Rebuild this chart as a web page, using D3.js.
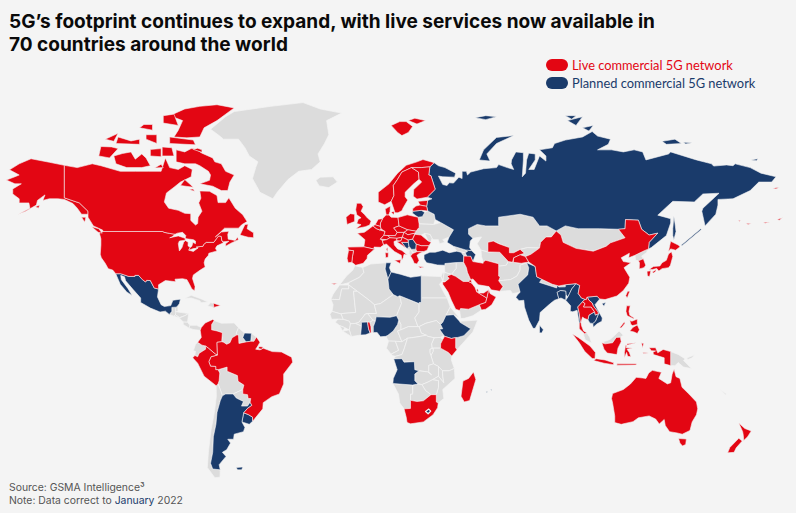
<!DOCTYPE html>
<html>
<head>
<meta charset="utf-8">
<script src="https://cdnjs.cloudflare.com/ajax/libs/d3/7.8.5/d3.min.js"></script>
<style>
  html, body { margin: 0; background: #f4f4f4; }
  svg { display: block; }
  .title { font: 700 19.05px "Inter", sans-serif; fill: #0a0a0a; }
  .legend { font: 400 12.85px "Lato", sans-serif; }
  .foot { font: 400 10.4px "Inter", sans-serif; fill: #555; }
  .land { stroke: #f4f4f4; stroke-linejoin: round; }
</style>
</head>
<body>
<svg id="map" width="796" height="513"></svg>
<script>
// country outlines: name, then "lon,lat" rings
const liveShapes = [
  ["USA", "-124.7,48.4 -123,49 -95.2,49 -94.6,48.7 -92,48.3 -89.5,48 -91,47 -92,46.7 -88,47.4 -84.8,46.5 -84.8,45.8 -87.5,45.5 -88,44.5 -87.5,41.7 -86.3,43 -85.5,45 -84.7,45.7 -83.4,45 -83.5,43.7 -82.5,43 -83.1,42 -81,41.5 -78.9,42.8 -79,43.3 -76.5,43.5 -76.2,44.2 -75,45 -71.5,45 -70.3,46.3 -69.2,47.4 -68,47.2 -67.8,45.7 -67,44.8 -70,43.7 -70.7,42.7 -70,41.7 -73.8,40.8 -74,40 -75.5,38.5 -76,37 -75.5,35.3 -77.8,34 -81,32 -81.4,30.5 -80.2,27 -80.4,25.2 -81.7,26 -82.8,28 -84,30 -86,30.4 -89.5,30.2 -89.3,29.1 -91,29.3 -94,29.6 -97.2,27.8 -97.2,25.95 -99.2,26.4 -101,29.6 -102.7,29.7 -103.2,29 -104.7,30 -106.5,31.8 -108.2,31.8 -108.2,31.35 -111,31.35 -114.8,32.5 -117.1,32.5 -118.5,34 -120.6,34.6 -122,36.8 -123.8,39 -124.3,40.4 -124,44 -124,46.3"],
  ["Alaska", "-141,69.6 -148,70.4 -156.5,71.3 -162,70 -166.5,68.4 -162,67 -164,66.5 -168,65.6 -164,64.5 -161,64.5 -165,63 -165,61.5 -162,60 -162,58.7 -157.5,58.7 -157,57 -162,55.2 -163,54.8 -159,56 -154,58 -153.5,59.5 -151.5,60.5 -150,61.2 -151,59.5 -148,60 -144,60 -141,59.8 -137,58.5 -135,57 -133,55 -130,55 -130,56 -134,58.7 -137.5,59.5 -141,60.3"],
  ["Kodiak", "-154.5,57.5 -152.5,58 -153,57"],
  ["Attu", "172.5,52.9 173.5,52.9 173,52.5"],
  ["Adak", "176,51.9 178.5,51.8 177,51.5"],
  ["Atka", "184,52.2 187,52.4 185,51.9"],
  ["Unalaska", "190.5,53.2 193,53.8 191.5,53"],
  ["St Lawrence", "188.5,63.2 191.5,63.5 190,63"],
  ["Canada", "-141,69.6 -135,69 -128,70 -124,69.5 -115,68 -108,68 -102,68 -96,68 -94,71.5 -92,69 -88,68.5 -85,69.5 -81.5,68.5 -82,66.5 -87,65 -90,63.5 -93.5,61.8 -94.5,59 -92.5,57 -88,56.3 -85,55.3 -82.2,55.2 -82.2,52.9 -80,51.3 -79,51.8 -78.8,54 -77,56 -78.5,58.7 -77.5,60.2 -78,62.4 -73.5,62.3 -70,61 -69.5,58.8 -66,58.8 -64.5,60.3 -61.5,57 -58,54.8 -56,52.5 -58.5,51.4 -60,50.2 -66.5,50.2 -69.5,47.9 -70.8,47 -68,48.8 -64.5,49.1 -65,47.9 -64.8,46.2 -61.5,45.7 -60.5,47 -60,46 -63.5,44.7 -66,43.5 -66,44.5 -64.5,45.4 -67,45.2 -67.8,45.7 -68,47.2 -69.2,47.4 -70.3,46.3 -71.5,45 -75,45 -76.2,44.2 -76.5,43.5 -79,43.3 -79.7,43.2 -78.9,42.8 -81,42.6 -83.1,42 -82.5,43 -81.7,43.5 -81.2,45 -80,44.5 -80,45.5 -81,46 -84,46.3 -84.8,46.5 -84.5,47.5 -86,48.7 -88.4,48.4 -89.5,48 -92,48.3 -94.6,48.7 -95.2,49 -123,49 -123.2,49.5 -127.5,51 -130,54 -130,55 -130,56 -134,58.7 -137.5,59.5 -141,60.3"],
  ["Vancouver Is", "-128.3,50.7 -125,50 -123.4,48.4 -125.3,48.7"],
  ["Newfoundland", "-59.3,47.7 -57,51.5 -55.5,51.6 -56,50 -53,48.5 -53,46.7 -55.5,46.9"],
  ["Baffin", "-80,73.7 -77,72.7 -72,71.5 -71,70.5 -68,70 -66,68 -62,67 -64,65 -65,62.5 -68,62.5 -72,63.8 -78,64.5 -73.5,65.5 -73,67 -74,68 -78,69.5 -80,70 -85,70 -89,70.5 -89,73.5 -85,73 -82,73.8"],
  ["Victoria Is", "-117,70 -112,69 -105,69 -101,69.5 -103,71.5 -105,72.5 -108,71.2 -110,73 -114,72.6 -118,72"],
  ["Banks Is", "-125,72 -120,71.5 -116,73.8 -119,74.2 -124,74.3"],
  ["Ellesmere", "-90,76.5 -84,76.3 -78,76.5 -76,78.5 -70,80 -62,82.5 -70,83.1 -78,82.8 -85,82.3 -92,81 -86,80 -88,78"],
  ["Devon", "-92,75 -80,74.7 -81,75.8 -92,76.5"],
  ["Bylot", "-81,73.6 -77,72.9 -77,73.5 -79,73.9"],
  ["Axel Heiberg", "-95,79.5 -88,79 -90,81.3 -95,81"],
  ["Melville", "-117,75 -106,74.8 -106,76 -110,75.6 -116,76.5"],
  ["Prince Patrick", "-122,76 -118,75.5 -116,77.3"],
  ["Ellef Ringnes", "-106,78.5 -100,78 -100,79.2 -104,79.2"],
  ["Southampton", "-87,64 -81,63.5 -85,65.7"],
  ["Coats", "-83,62.8 -80.5,62.3 -81,63"],
  ["King William", "-99,68.9 -95,69 -96,69.9"],
  ["Prince of Wales", "-101,72 -96,71.8 -96,73.8 -101,73.6"],
  ["Somerset", "-95.5,72 -90,72 -91,74 -95.5,74.2"],
  ["Bathurst", "-103,76 -98,75 -98,77 -103,77"],
  ["Haida Gwaii", "-133,54 -131,54 -131.5,52.3"],
  ["Dominican Rep", "-71.7,19.7 -68.4,18.6 -71.5,17.8"],
  ["Colombia", "-77.3,8.6 -75.5,10.7 -72,12.3 -71.3,11.8 -72.5,10 -72.5,7.5 -70,7 -67.5,6.2 -67.8,2 -70,1.7 -69.8,-4.2 -70.7,-3.8 -74,-1 -75.3,0 -77,0.4 -79,1.7 -77.3,4 -77.8,7.3"],
  ["Brazil", "-51.7,4.2 -50,1.8 -51,0 -52,-1.5 -50,-1.8 -48.5,-1 -44.3,-2.6 -40,-2.8 -35.3,-5.2 -34.8,-7.5 -39,-13 -39,-17.5 -41,-22 -44.5,-23.2 -48.5,-25.8 -48.7,-28.5 -53.4,-33.7 -53.5,-32 -55.5,-30.9 -57.6,-30.2 -55.8,-28.3 -53.8,-27 -54.6,-25.6 -54.3,-24 -55.5,-24 -55.8,-22.3 -58,-22 -58,-20 -57.5,-18 -60.2,-16.3 -60.5,-13.7 -65.3,-11.7 -65.3,-9.8 -69.5,-11 -70.6,-11 -70.6,-9.5 -73,-9.4 -73.8,-7.3 -72.8,-5 -69.8,-4.2 -70,1.7 -67.8,2 -67,1.8 -65.5,0.8 -64,1.5 -63,3.8 -60.7,5.2 -60,5 -59.8,1.2 -56.5,1.9 -54.3,2.2 -52.8,2.2"],
  ["Marajo", "-50.5,-0.2 -48.5,-0.5 -49.3,-1.5 -50.7,-1.2"],
  ["Peru", "-80.3,-4.4 -79,-5 -78.3,-3.4 -75.3,-1.5 -75.3,0 -74,-1 -70.7,-3.8 -69.8,-4.2 -72.8,-5 -73.8,-7.3 -73,-9.4 -70.6,-9.5 -70.6,-11 -69.5,-11 -68.7,-12.5 -69,-16 -69.5,-17.5 -70.4,-18.3 -76,-14 -79,-8 -81.3,-5.5"],
  ["Ireland", "-10,54 -8,55.2 -6,55 -6,52.5 -9.5,51.5"],
  ["UK", "-5,58.6 -3,58.6 -2,57.5 -3,56 -1.5,55 0,53.7 1.7,52.7 1,51.3 -1,50.7 -5.5,50 -3,51.4 -5,51.8 -4.3,53.3 -3,53.8 -5,54.8 -5.5,56.5"],
  ["France", "-4.7,48.4 -1.5,48.7 0,49.5 2.5,51 4.2,50 5.8,49.5 8.2,49 7.6,47.6 6,46.2 6.9,45.7 7.5,44 6,43.1 3,43.2 3.2,42.4 -1.7,43.3 -1.2,46"],
  ["Corsica", "8.6,42.5 9.4,43 9.4,41.4"],
  ["Spain", "-9.2,43.2 -1.7,43.3 3.2,42.4 0,40 -0.2,38.7 -2,36.8 -5.5,36 -7.3,37.2 -7,39.5 -6.5,41.8 -8.8,42"],
  ["Canaries", "-17,28.3 -14,28.5 -15.5,27.9"],
  ["Portugal", "-8.8,42 -6.5,41.8 -7,39.5 -7.3,37.2 -9,37 -9.5,38.8"],
  ["Germany", "7,53.5 8.7,54.8 9.9,54.8 11,54 14.2,53.9 14.7,51 12.2,50.3 13.8,48.7 13,47.5 9.6,47.5 7.6,47.6 8.2,49 6.2,50 6,50.8 6,52"],
  ["Netherlands", "4,52 5,53.3 7,53.5 6,52 6,50.8 3.5,51.4"],
  ["Belgium", "2.5,51 3.5,51.4 6,50.8 6.2,50 5.8,49.5 4.2,50"],
  ["Denmark", "8.7,54.8 8.2,56.7 10.6,57.7 10.5,56 9.9,54.8"],
  ["Zealand", "11,55.7 12.5,56 12.2,54.8"],
  ["Switzerland", "6,46.2 7.6,47.6 9.6,47.5 10.4,46.7 8.9,46"],
  ["Austria", "9.6,47.5 13,47.5 13.8,48.7 17,48.7 16.2,46.9 13.7,46.5 10.4,46.7"],
  ["Italy", "7.5,44 6.9,45.7 8.9,46 10.4,46.7 13.7,46.5 13.6,45.7 12.3,45.3 12.5,44 14,42.5 16,41.9 18.5,40.1 17,40.4 16.6,39 16,38 15.7,40 12.5,41.5 10.5,43 8.8,44.4"],
  ["Sicily", "12.5,38 15.6,38.2 15.1,36.7"],
  ["Sardinia", "8.2,41 9.7,41 9.6,39.2 8.5,39"],
  ["Czechia", "12.2,50.3 14.7,51 18.8,49.6 17,48.7 13.8,48.7"],
  ["Poland", "14.2,53.9 18.5,54.8 23.5,54 24,51.7 24,50.5 22.6,49.1 18.8,49.6 14.7,51"],
  ["Slovakia", "17,48.7 18.8,49.6 22.6,49.1 22.1,48.4 18.8,47.8"],
  ["Hungary", "16.2,46.9 17,48.7 18.8,47.8 22.1,48.4 21,46.2 18.8,45.9"],
  ["Slovenia", "13.6,45.7 13.7,46.5 16.2,46.9 15.5,45.5"],
  ["Croatia", "13.6,45.2 15.5,45.5 16.2,46.9 18.8,45.9 19,45 15.8,45 17.7,43 18.5,42.5 15,44.5"],
  ["Romania", "21,46.2 22.1,48 24.9,47.7 28.2,45.5 29.6,45 28.6,43.7 25,43.7 22.7,44.3"],
  ["Bulgaria", "22.7,44.3 25,43.7 28.6,43.7 27.7,42 26,41.4 23,41.4 22.5,42.4"],
  ["Greece", "20,39.7 21,40.7 23,41.4 26,41.4 24,40.7 23,40 24,38 23,36.5 21.7,36.8 21,38.3"],
  ["Crete", "23.5,35.6 26.3,35.3 24.5,34.9"],
  ["Norway", "5,59 5,62 10,64.5 14,67.5 18,69.6 23,70.5 25.8,71.1 31,70.3 29,69.2 25,69 20.5,69 16,67.8 14,65.8 12,64 12.3,61 11,59.2 8,58.1"],
  ["Spitsbergen", "11,79 14,77.5 16,76.8 19,77.5 21,78.8 18,79.8 15,79.8"],
  ["Nordaustlandet", "19,80 23,79.3 27,80 22,80.5"],
  ["Sweden", "11,59.2 12.3,61 12,64 14,65.8 16,67.8 20.5,69 23.7,67.8 24,65.8 21.5,64.5 17.5,62 17.5,60.6 18.7,59.6 16.5,57 16,56.2 14.2,55.5 12.8,55.5"],
  ["Finland", "20.5,69 25,69 29,69.2 28.5,67 29.5,66.8 31.5,62.9 27.8,60.5 23,59.9 21.3,60.8 21.5,62.8 25.2,65 24,65.8 23.7,67.8"],
  ["Estonia", "23.5,59.2 28,59.5 27.5,57.6 24.4,58"],
  ["Latvia", "21,56.8 22.5,57.7 24.4,58 27.5,57.6 28,56.1 25,56.3 21,56"],
  ["Iran", "44.8,39.7 48,39.6 49,37.5 53.8,36.8 53.8,37.3 55,38 61,36.6 61,35.6 61,31.5 61.7,31 61,29.5 63,27 61.5,25 57.5,25.6 56.5,27 51.5,27.8 49,30.3 48,30 46.5,33 46,35 44.7,37.2"],
  ["Saudi Arabia", "36,29 35,29 35,28 37.5,24.5 39,21 41,17 42.8,16.4 43.3,17.3 47,17 52,19 55,20 55.5,22 51.6,24.3 50.8,24.7 50,26.6 48.5,28.5 47,29.2 44.5,29.2 41,31.4 39,32.2 37,31.5 38,30.5"],
  ["Oman", "52,19 53,16.6 55,17 57.8,19 59.8,22.4 57,24 56.3,26 56,24.2 55.5,22 55,20"],
  ["UAE", "51.6,24.2 55.5,22 56,24.2 56.3,25.6 54,24.2"],
  ["Qatar", "50.8,24.7 51.6,25 51.3,26.1 50.8,25.7"],
  ["Kuwait", "47.7,30 48.3,29.5 48.5,28.5 47,29.2"],
  ["Uzbekistan", "56,45 58.5,45.5 61,44.5 66,43 66,41 68,41 71,42.3 73,40.8 71,40.2 68,39 67.5,37.2 65.5,37.5 61.5,41.2 57.5,41.3 56,41.3"],
  ["Tajikistan", "68,39 71,40.2 73.5,39.5 75,37.3 71.5,36.8 67.8,37.2"],
  ["China", "73.5,39.5 76,40.4 80,42.8 80.5,45 83,47 85.5,47 87.8,49.2 90,47.7 91,45 97,42.7 105,41.6 111,43.5 113,44.8 119.8,46.7 116.7,49.8 119.8,50 120,53.2 126,53 127.5,49.8 131,47.7 135,48.4 131,45 130.7,42.5 128,41.5 124.4,40 121.5,39 121.8,40.8 118,39 119,37.5 122.5,37 119.3,35 122,31 121.5,28.5 119,25.3 116,22.9 110.5,21.3 108,21.6 106.8,22.8 102.2,22.4 101.7,21.2 99.5,22 98,24 98.7,27.5 97,28.3 92,27.8 89,27.3 86,28 81,30.2 78.7,31.2 78,35.5 75,37.3"],
  ["Taiwan", "121,25 122,25 120.8,22 120.1,23"],
  ["South Korea", "126,37.8 128.3,38.6 129.4,36 128.6,35 126.4,34.5 126.5,37"],
  ["Honshu", "131,34.3 133,35.5 136,35.7 137,37 139,38 140,40.5 141.4,41.4 142,39.5 140.9,36 140,35 137,34.6 135.5,33.6 134.5,34.7 132.5,34.2"],
  ["Hokkaido", "140,41.5 141,45.4 144.5,44 145.4,43.3 143.3,42 141,42.5"],
  ["Kyushu", "130,33.5 131.8,33.7 131.2,31.3 130.2,31.5"],
  ["Shikoku", "132.5,33.2 134.3,34.3 134,33.4 133,32.8"],
  ["Thailand", "100,20.3 101.2,19.5 100.5,18 104,18 105.6,15.8 103,14.3 102.5,12.2 101,12.7 100,13.4 99.3,11 99.5,9.5 100.5,7 102,6.2 101,5.7 98.5,8 98.5,10.5 99,11 98.5,15 97.8,18"],
  ["Laos", "101.2,21.5 101.7,21.2 102.2,22.4 103,21 104.5,19.8 105,18.5 107,16 107.5,15 106,14.3 105.6,15.8 104,18 100.5,18 101.2,19.5 100,20.3"],
  ["Sumatra", "95.3,5.6 98,4 103.5,0 106,-3 105.8,-5.9 104.5,-5.8 101,-2.5 98.5,1.5"],
  ["Java", "105.2,-6.8 106.3,-5.9 110.5,-6.5 114.5,-7.8 114.4,-8.7 110,-8"],
  ["Kalimantan", "109,1.5 110.5,1 114,1.5 115.7,4 117.6,4.1 118,2 116.5,-1 116,-4 111.5,-3.3 110,-1.5"],
  ["Sulawesi", "119.5,-5.5 120.5,-3 121,-4.8 122.5,-5 121.8,-3 120.7,-1.5 123.2,-0.9 120.3,-0.8 120.8,1.1 125,1.5 120,0.2 119.5,-3"],
  ["Sunda Is", "116,-8.3 125,-8.2 125,-8.8 116,-8.9"],
  ["Halmahera", "127.5,1.5 128.5,1 127.8,-0.8"],
  ["Seram", "128,-3 130.7,-3.3 128.5,-3.5"],
  ["Papua", "131,-0.8 134,-0.8 135,-3.2 137.5,-1.6 141,-2.6 141,-9.1 138,-8.3 138,-5.5 133,-4 132.8,-2.8 134,-2.3 132,-2.2"],
  ["Luzon", "120.5,18.5 122.2,18.5 121.6,16 122,14.2 124,13 123.8,12.6 120.8,14 120.2,16"],
  ["Mindanao", "122,7 123.5,8.7 125.5,9.8 126.5,7.5 125.5,5.8 124,6.5"],
  ["Visayas", "122,11.8 123,11.5 125.5,12.5 125.5,10 123.3,9.5 122.5,10"],
  ["Palawan", "117.3,8.5 119.5,11.3 119.7,10.5 118,8.4"],
  ["Australia", "113.5,-24 114,-26 115,-31.5 115,-34.3 118,-35 123.5,-33.9 126,-32.3 131,-31.5 134,-32.8 135.7,-34.9 138,-33 138.5,-35.5 140.5,-38 144,-38.5 146.4,-39 150,-37.5 151,-34 153,-31 153.6,-28.5 153,-25.5 149.5,-22 146.3,-19 145.3,-15 143.5,-14.2 142.6,-10.8 141.7,-13 141,-17 139.5,-17.5 135.5,-15 136.7,-12.2 132.5,-11.3 130.8,-12.5 129.5,-15 128,-14.8 125,-14.5 122.3,-17.5 119,-20 114,-21.8"],
  ["Tasmania", "144.7,-40.7 148.3,-40.9 148,-43 146.5,-43.6 145.3,-42.5"],
  ["NZ North", "172.7,-34.5 175.5,-36.7 178.5,-37.7 176.8,-40 175,-41.5 174.8,-39.5 174.5,-38"],
  ["NZ South", "172.7,-40.6 174.3,-41.7 171.5,-44.3 170.5,-46 167.5,-46.2 168.5,-44.2"],
  ["Togo", "0,11.1 1,11 1.6,9 1.7,6.2 1.2,6 0.5,8"],
  ["Kenya", "35.9,4.5 39,3.5 41,3.9 41,-0.8 41.6,-1.7 39.2,-4.7 37.6,-3 34,-1 34,1 35,3"],
  ["Madagascar", "49.3,-12 50.4,-15.5 47.5,-24.9 45,-25.5 43.5,-23 44.4,-16.2 47,-15"],
  ["South Africa", "17,-28.5 20,-28.3 20,-24.8 23,-25.3 26,-25 29.5,-22.3 32,-22.3 32,-25.5 32.9,-26 32.6,-28 30.5,-31 26,-34 20,-34.8 18.4,-34.2 18,-32"]
];

const plannedShapes = [
  ["Mexico", "-117.1,32.5 -114.8,32.5 -111,31.35 -108.2,31.35 -108.2,31.8 -106.5,31.8 -104.7,30 -103.2,29 -102.7,29.7 -101,29.6 -99.2,26.4 -97.2,25.95 -97.7,22.5 -96,19 -94.5,18.2 -91.5,18.6 -90.5,21 -87,21.5 -87.5,19.5 -88.2,18.5 -89,17.9 -91,17.8 -91,16 -92.2,14.6 -94,16.1 -96.5,15.7 -101,17.5 -105.5,20 -105.5,22 -109,25.7 -112.5,29.5 -113,31.2 -114.8,31.8 -114.5,30 -111.3,26 -109.5,23.1 -112,24.7 -115,28"],
  ["Suriname", "-57.2,6 -54,5.9 -54.3,2.2 -56.5,1.9 -58,4"],
  ["Uruguay", "-57.6,-30.2 -55.5,-30.9 -53.5,-32 -53.4,-33.7 -55,-35 -58.4,-34"],
  ["Argentina", "-67.5,-22.8 -66,-22 -62.5,-22 -61,-23.8 -57.7,-25.3 -58.6,-27.3 -55.8,-27.3 -54.6,-25.6 -53.8,-27 -55.8,-28.3 -57.6,-30.2 -58.4,-34 -57,-36.3 -57.7,-38 -62,-39 -62.3,-41 -65,-41 -63.7,-42.5 -65.5,-45 -67.5,-46 -65.8,-47.5 -69,-50.5 -68.5,-52.3 -72,-52 -73,-50 -72,-46 -71.7,-40 -70.5,-35 -70,-30 -68.5,-25"],
  ["Falklands", "-61,-51.5 -58,-51.3 -58.5,-52.3 -60.5,-52.3"],
  ["Lithuania", "21,56 25,56.3 26.6,55.6 25.5,54.2 23.5,54 21,55.3"],
  ["Bosnia", "15.8,45 19,45 19.3,43.5 18.5,42.5 17.7,43"],
  ["Serbia", "18.8,45.9 21,46.2 22.7,44.3 22.5,42.4 20.5,42.3 19.3,43.5 19,45"],
  ["Russia", "31,70.3 33,69.5 36,69 41,67.5 40.5,66.4 35,66.5 33,66.7 35,64.3 37,64 38,64.8 40,64.7 42.5,66.4 44,66 44,68 46,68 46.5,67 48,67.8 54,68.7 60,69 61,69.8 65,69 68,68.5 66.8,70 67,71 69,73 72.5,72.8 72.5,71 72,66.5 73.5,67.5 74,71 75,72.7 78,72.5 78,71 75,68.5 77.5,68.5 80,72 83,70.7 83,72 80,73.5 86,74 87,75 92,75.8 100,76.5 104.5,77.7 107,76.7 113,76 112,74.8 107,73.5 113.5,73.5 119,73 124,73.5 128,73 129.5,71 133,71.5 140,72.5 141,73 150,71.5 153,71 160,70 161,69.4 167,69.7 170,69.5 171,70 178,69 183,67.5 190,66.5 188,65 182,65 178,62.5 170,60 163,59.8 163,58 162,55 157,51 155.5,56 156,57 163.5,61.7 156,61.5 152,59 142,59.2 135,54.7 141,53.5 141,52 139,47.5 132,43 130.7,42.5 131,45 135,48.4 131,47.7 127.5,49.8 126,53 120,53.2 119.8,50 116.7,49.8 108,50 98,50 92,51 87.8,49.2 83.5,51 80,51 77,54 71,55 61,54 61,51 55,51 51,51.5 47,50 47,48 49,46.5 47.8,45.5 47.5,43 48.5,41.8 46,42 40,43.5 37,45 38,47 40,49.6 34,52.2 31.5,53.2 31,55 28,56.1 27.5,57.6 28,59.5 30,60 27.8,60.5 31.5,62.9 29.5,66.8 28.5,67 29,69.2"],
  ["Sakhalin", "142.5,54.3 143,52 143.5,49 142.5,46 142,47.5 142,50"],
  ["Kurils", "146,44 155,50 155.3,49.7 146.3,43.7"],
  ["Novaya Zemlya", "52,71 57,70.7 55.5,72.5 60,75 68,76.8 60,76.4 54,73.5"],
  ["Franz Josef", "50,80.6 55,81 60,80.8 55,80.2"],
  ["Severnaya 1", "92,81 97,81 95,80.3"],
  ["Severnaya 2", "93,80 100,80.8 97,79"],
  ["Severnaya 3", "100,78.5 105,79 103,77.8"],
  ["Kotelny", "137,75.5 143,76 146,75 139,74.8"],
  ["New Siberia", "147,75.3 151,75.2 148,74.9"],
  ["Wrangel", "178.5,71 181.5,71.3 181,70.8"],
  ["Turkey", "26.3,40.2 29,41.2 31.5,41.2 35,42 38,41 41.5,41.6 43.5,41.2 44.8,39.7 44.7,37.2 41.2,37.1 36,36.7 36,36 32.5,36.1 30.5,36.5 27.5,37 26.3,38.5"],
  ["Azerbaijan", "46,42 48.5,41.8 50.3,40.3 49,37.5 48,39.6 46.5,39 45.5,41 46.5,41.5"],
  ["India", "74.5,32 75,35 74,37 78,35.5 78.7,31.2 81,30.2 80,28.8 88,26.4 88.2,27.7 89,26.8 92,26.9 92,27.8 97,28.3 95,26 94,24 93.2,22.5 92.3,23.5 92.2,25 89.8,25.3 88.2,24.5 89,21.7 87,21 85,19.5 80.3,15.5 80,12 78,8.2 77,8.2 75,12 73,18 72.7,21 70.5,20.8 69,22.3 70,23.7 71,24.5 70,28"],
  ["Bangladesh", "88.2,24.5 89.8,25.3 92.2,25 92.3,23.5 92.2,21 90,22 89,21.7"],
  ["Myanmar", "92.2,21 93.2,22.5 94,24 95,26 97,28.3 98.7,27.5 98,24 99.5,22 101.2,21.5 100,20.3 97.8,18 98.5,15 99,11 98.5,10.5 97.5,16.5 95.5,15.8 94.3,16 94.5,18.5"],
  ["Vietnam", "102.2,22.4 106.8,22.8 108,21.6 105.8,19 107,16.8 109.2,13 109,11.5 106.8,10.3 105,8.7 104.8,10.5 106,11.5 107.5,15 107,16 105,18.5 104.5,19.8 103,21"],
  ["Cambodia", "102.5,12.2 103,14.3 105.6,15.8 106,14.3 107.5,15 106,11.5 104.8,10.5 103.5,10.6"],
  ["Hainan", "109,19.5 110.8,20 110,18.3"],
  ["Sri Lanka", "80,9.7 81.8,7.5 81,6 80,6.2"],
  ["Tunisia", "8.6,37 11,37 10.2,35 11,33.2 9.5,30.2 9,32 8.2,34.5"],
  ["Libya", "11,33.2 15.2,32.3 20,31 25,31.6 25,22 25,20 24,20 24,19.5 15,23 14,22.6 12,23.5 10,26 9.5,30.2"],
  ["Ghana", "-3.2,5.1 -1,5.2 1.2,6 0.5,8 0,11.1 -2.8,11 -2.8,9.3"],
  ["Nigeria", "2.7,6.3 2.7,9 3.7,11.7 4,13.5 10.5,13.3 13.5,14 14.5,12 14,10 12,7 9.5,5 8.5,4.5 6,4.3 4.5,6.3"],
  ["Ethiopia", "36.5,14.2 40,14.5 42.8,11.5 43,11 48,8 44.8,4.8 42,4 41,3.9 39,3.5 35.9,4.5 35.5,5 33.5,7.8 35,8 34,10 35,11"],
  ["Angola", "12.2,-6 16,-5.9 17,-7.5 21.8,-7.3 22,-11 23.9,-11.5 22,-13 22,-16 23.5,-17.5 21,-18 11.8,-17.3 12,-15 13.8,-11 13,-8.5"],
  ["Mauritius", "57.3,-20 57.9,-20 57.6,-20.6"],
  ["Reunion", "55.2,-20.9 55.8,-21 55.5,-21.4"]
];

const otherShapes = [
  ["Greenland", "-73,78.2 -69,76.8 -67,76 -60,76 -57,74 -55,72 -51,70.5 -52,69 -53.5,66 -50,62 -44,60 -42,62 -37,65.7 -32,68 -26,68.5 -22,70.5 -23,72.5 -20,75 -18,77 -19,80 -12,81.5 -22,82.3 -30,83.5 -45,82.8 -62,81.8 -66,80.8"],
  ["Iceland", "-24,65.5 -22,66.4 -16,66.5 -14,65 -18,63.4 -22.5,63.9"],
  ["Guatemala", "-92.2,14.6 -91,16 -91,17.8 -89.2,17.8 -89.2,15.9 -88.2,15.7 -90,13.8"],
  ["Belize", "-89.2,17.8 -88.2,18.5 -88.2,16 -89.2,15.9"],
  ["Honduras", "-89.2,15.9 -88.2,15.7 -83.2,15 -85,14 -87.5,13.2 -89.3,14.4"],
  ["El Salvador", "-90,13.8 -89.3,14.4 -87.7,13.3 -88,13.2"],
  ["Nicaragua", "-87.5,13 -85,14 -83.2,15 -83.7,11 -85.7,11.1"],
  ["Costa Rica", "-85.7,11.1 -83.7,11 -82.6,9.6 -83,8.3 -85.7,10"],
  ["Panama", "-83,8.3 -82.6,9.6 -79.5,9.6 -77.3,8.6 -77.8,7.3 -80,7.5 -81,7.7"],
  ["Cuba", "-85,21.9 -82,23.2 -77,21.5 -74.2,20.2 -77.5,19.9 -78,20.8 -82,22"],
  ["Haiti", "-74.4,18.4 -73,19.9 -71.7,19.7 -71.5,17.8"],
  ["Venezuela", "-71.3,11.8 -68,10.6 -62,10.7 -60,8.5 -61,6 -61,5.2 -60.7,5.2 -63,3.8 -64,1.5 -65.5,0.8 -67,1.8 -67.8,2 -67.5,6.2 -70,7 -72.5,7.5 -72.5,10"],
  ["Guyana", "-60,8.5 -57.2,6 -58,4 -56.5,1.9 -59.8,1.2 -60,5 -61,5.2 -61,6"],
  ["French Guiana", "-54,5.9 -51.7,4.2 -52.8,2.2 -54.3,2.2"],
  ["Ecuador", "-80,0.8 -79,1.7 -77,0.4 -75.3,0 -75.3,-1.5 -78.3,-3.4 -79,-5 -80.3,-4.4 -80,-2.5 -81,-2.2"],
  ["Bolivia", "-69.5,-11 -65.3,-9.8 -65.3,-11.7 -60.5,-13.7 -60.2,-16.3 -57.5,-18 -58,-20 -62.5,-22 -66,-22 -67.5,-22.8 -68.5,-20 -69.5,-17.5 -69,-16 -68.7,-12.5"],
  ["Paraguay", "-58,-20 -58,-22 -55.8,-22.3 -55.5,-24 -54.3,-24 -54.6,-25.6 -55.8,-27.3 -58.6,-27.3 -57.7,-25.3 -61,-23.8 -62.5,-22"],
  ["Chile", "-70.4,-18.3 -69.5,-17.5 -68.5,-20 -67.5,-22.8 -68.5,-25 -70,-30 -70.5,-35 -71.7,-40 -72,-46 -73,-50 -72,-52 -68.5,-52.3 -68.6,-54.8 -71,-55 -74.5,-51.5 -74,-46 -73.3,-41 -72.7,-37 -71.2,-30 -70.3,-23"],
  ["Belarus", "23.5,54 25.5,54.2 26.6,55.6 28,56.1 31,55 31.5,53.2 30.8,51.5 24,51.7"],
  ["Ukraine", "24,51.7 30.8,51.5 34,52.2 40,49.6 38,47 35,46 36,45 33.5,44.5 33,46 30.5,46 30,46.5 29.1,47.9 26.6,48.3 24.9,47.7 22.1,48 22.6,49.1 24,50.5"],
  ["Moldova", "26.6,48.3 29.1,47.9 30,46.5 29.6,45.3 28.2,45.5"],
  ["Montenegro", "18.5,42.5 19.3,43.5 20.3,42.6 19.4,41.9"],
  ["Albania", "19.4,41.9 20.5,42.3 21,40.7 20,39.7 19.4,40.6"],
  ["N Macedonia", "20.5,42.3 22.5,42.4 23,41.4 21,40.9"],
  ["Kazakhstan", "47,50 51,51.5 55,51 61,51 61,54 71,55 77,54 80,51 83.5,51 87.8,49.2 85.5,47 83,47 80.5,45 80,42.8 74.5,43 71,42.3 68,41 66,41 66,43 61,44.5 58.5,45.5 56,45 56,41.3 52.8,42 51,44.5 53,47 49,46.5 47,48"],
  ["Turkmenistan", "52.8,42 56,41.3 57.5,41.3 61.5,41.2 65.5,37.5 64.5,36 61,35.6 61,36.6 55,38 53.8,37.3 53,39.5"],
  ["Kyrgyzstan", "71,42.3 74.5,43 80,42.8 76,40.4 73.5,39.5 71,40.2 73,40.8"],
  ["Afghanistan", "61,35.6 64.5,36 65.5,37.5 67.5,37.2 71.5,36.8 75,37.3 71,36 71,34 69.5,31.5 66.5,30 61,29.5 61,31.5"],
  ["Pakistan", "61,29.5 63,27 61.5,25 66.5,25.3 67.5,24 71,24.5 70,28 74.5,32 75,35 74,37 75,37.3 71,36 71,34 69.5,31.5 66.5,30"],
  ["Iraq", "44.7,37.2 46,35 46.5,33 48,30 47.7,30 47,29.2 44.5,29.2 41,31.4 39,32.2 41.2,34.7 41.2,37.1"],
  ["Syria", "36,36.7 41.2,37.1 41.2,34.7 39,32.2 36,33 35.8,35"],
  ["Jordan", "36,33 39,32.2 37,31.5 38,30.5 36,29 35,29.5 35.5,32.5"],
  ["Israel", "35,33.2 35.5,32.5 35,29.5 34.3,31.3"],
  ["Yemen", "42.8,16.4 43.4,12.7 45,12.8 49,14 53,16.6 52,19 47,17 43.3,17.3"],
  ["Georgia", "40,43.5 46,42 46.5,41.5 45.5,41 43.5,41.2 41.5,41.6"],
  ["Armenia", "43.5,41.2 45.5,41 46.5,39 44.8,39.7"],
  ["Mongolia", "87.8,49.2 92,51 98,50 108,50 116.7,49.8 119.8,46.7 113,44.8 111,43.5 105,41.6 97,42.7 91,45 90,47.7"],
  ["North Korea", "124.4,40 128,41.5 130.7,42.5 129.7,41 127.5,39.7 128.3,38.6 126,37.8 124.7,38"],
  ["Nepal", "80,28.8 81,30.2 86,28 88.2,27.7 88,26.4"],
  ["Bhutan", "89,26.8 89,27.3 92,27.8 92,26.9"],
  ["Malaya", "100.5,6.5 101,5.7 102,6.2 103.4,4 104.2,1.4 101.3,2.8 100.4,5.5"],
  ["Sarawak Sabah", "109.6,2 111.3,2.5 113,3.2 115,5 117,7 119,5 117.6,4.1 115.7,4 114,1.5 110.5,1"],
  ["PNG", "141,-2.6 144.5,-3.9 147.8,-6 147,-6.7 150.7,-10.5 147,-9.8 144.5,-7.7 143,-9.2 141,-9.1"],
  ["New Britain", "148.5,-5.6 152,-4.2 151,-5.5 149,-6.3"],
  ["New Caledonia", "164,-20 167,-22 166.5,-22.3"],
  ["Morocco", "-5.9,35.8 -2.2,35.1 -1.7,33 -3.7,31 -8.7,28.7 -13,27.7 -9.8,31.5 -6.8,34"],
  ["W Sahara", "-13,27.7 -8.7,27.7 -8.7,26 -12,26 -13,21.3 -17,21.4 -16,23.7"],
  ["Algeria", "-2.2,35.1 1.5,36.5 8.6,37 8.2,34.5 9,32 9.5,30.2 10,26 12,23.5 6,19.5 3.2,19 1.2,20.7 -4.8,25 -8.7,27.7 -8.7,28.7 -3.7,31 -1.7,33"],
  ["Egypt", "25,31.6 34.2,31.3 34.9,29.5 33.5,28 35.8,23.9 37,22 25,22"],
  ["Mauritania", "-17,21.4 -13,21.3 -12,26 -8.7,26 -8.7,27.7 -4.8,25 -6.5,25 -5.5,15.5 -12,15 -12.3,14.8 -16.5,16 -16,19"],
  ["Mali", "-4.8,25 1.2,20.7 3.2,19 4.2,15 0,15 -1,14.8 -4,11 -5.5,10.5 -8,10.3 -8.5,11.5 -11.4,12.4 -12.3,14.8 -12,15 -5.5,15.5 -6.5,25"],
  ["Niger", "3.2,19 6,19.5 12,23.5 14,22.6 15,23 15.8,19.5 13.5,14 10.5,13.3 4,13.5 3.7,11.7 2.5,12 0,15 4.2,15"],
  ["Chad", "15,23 24,19.5 24,15.7 22,13 23.5,9 19,9 15.5,7.5 15.5,10 14.5,12 13.5,14 15.8,19.5"],
  ["Sudan", "24,15.7 22,13 23.5,9 24,9 27,10.5 32,11.8 34,10 35,11 36.5,14.2 38.5,18 37,22 25,22 25,20 24,20 24,19.5"],
  ["South Sudan", "24,9 27,10.5 32,11.8 34,10 35,8 33.5,7.8 35.5,5 33.9,4 31,3.8 28,4.5 27.4,5 25,6"],
  ["Eritrea", "36.5,14.2 38.5,18 43,12.7 40,14.5"],
  ["Somalia", "43.3,11.5 51.2,12 49,6.5 41.6,-1.7 41,-0.8 41,3.9 42,4 44.8,4.8 48,8 43,11"],
  ["Uganda", "30,-1 34,-1 34,1 35,3 33.9,4 31,3.8 29.8,1"],
  ["Tanzania", "29.5,-4.5 30.5,-2.5 30.5,-1 34,-1 37.6,-3 39.2,-4.7 39,-6.5 40.4,-10.4 38,-11.5 34.9,-11.5 33,-9.5 30.7,-8.3"],
  ["Rwanda Burundi", "29,-1.5 30.5,-1 30.5,-2.5 29.5,-4.5 29,-3"],
  ["Benin", "1,11 2.5,12 3.7,11.7 2.7,9 2.7,6.3 1.7,6.2 1.6,9"],
  ["Cameroon", "8.5,4.5 9.5,5 12,7 14,10 14.5,12 15.5,10 15.5,7.5 14,7 16,2 13,2.2 9.8,2.3"],
  ["CAR", "14,7 15.5,7.5 19,9 23.5,9 24,9 25,6 27.4,5 23,4.2 18.6,3.6 16,2"],
  ["Gabon", "9.8,2.3 13,2.2 14.5,-2 11,-3.8 8.8,-1"],
  ["Congo", "13,2.2 16,2 18.6,3.6 17,-1.5 16,-4 13,-4.8 11.8,-4.5 11,-3.8 14.5,-2"],
  ["DRC", "18.6,3.6 23,4.2 27.4,5 28,4.5 31,3.8 29.8,1 30,-1 29,-1.5 29,-3 29.5,-4.5 30.7,-8.3 28.5,-9 28.5,-12 29.8,-13.4 28,-12 23.9,-11.5 22,-11 21.8,-7.3 17,-7.5 16,-5.9 12.2,-6 13,-4.8 16,-4 17,-1.5"],
  ["Zambia", "22,-13 23.9,-11.5 28,-12 29.8,-13.4 28.5,-12 28.5,-9 30.7,-8.3 33,-9.5 33,-14 30.2,-15.6 28,-16.7 25.3,-17.8 23.5,-17.5 22,-16"],
  ["Malawi", "33,-9.5 34.9,-11.5 35,-14 35.5,-17 33,-14"],
  ["Mozambique", "34.9,-11.5 38,-11.5 40.4,-10.4 40.7,-15 35,-20 35.5,-24 32.9,-26 32,-25.5 32,-22.3 33,-19 33,-16 30.2,-15.6 33,-14 35.5,-17 35,-14"],
  ["Zimbabwe", "25.3,-17.8 28,-16.7 30.2,-15.6 33,-16 33,-19 32,-22.3 29.5,-22.3 27,-20.5"],
  ["Botswana", "21,-18 23.5,-17.5 25.3,-17.8 27,-20.5 29.5,-22.3 26,-25 23,-25.3 20,-24.8 20,-22 21,-22"],
  ["Namibia", "11.8,-17.3 21,-18 23.5,-17.5 21,-18 21,-22 20,-22 20,-28.3 17,-28.5 15,-26 14.4,-22"],
  ["Eswatini", "31,-26 32,-26 32,-27.2 31,-27"],
  ["Cote d'Ivoire", "-8,10.3 -5.5,10.5 -2.8,9.3 -3.2,5.1 -7.5,4.4 -8.5,7.5"],
  ["Burkina Faso", "-5.5,10.5 -4,11 -1,14.8 0,15 2.5,12 1,11 0,11.1 -2.8,11 -2.8,9.3"],
  ["Guinea", "-15,11 -13.7,12.5 -11.4,12.4 -8.5,11.5 -8,10.3 -8.5,7.5 -10.5,8.5 -13,9.5"],
  ["Liberia", "-11.5,6.9 -8.5,7.5 -7.5,4.4"],
  ["Sierra Leone", "-13,9.5 -10.5,8.5 -11.5,6.9"],
  ["Senegal", "-17.5,14.7 -16.5,16 -12.3,14.8 -11.4,12.4 -13.7,12.5 -16.7,12.4"]
];

const enclaveShapes = [
  ["Lesotho", "27,-29.6 28.5,-28.6 29.4,-29.5 28.2,-30.6"]
];

const titleLines = [
  "5G\u2019s footprint continues to expand, with live services now available in",
  "70 countries around the world"
];
const legendLabels = ["Live commercial 5G network", "Planned commercial 5G network"];
const RED = "#e30613", NAVY = "#1a3b6b", GREY = "#dcdcdc";

const svg = d3.select("#map");

// the map is a Miller cylinder, cut at 170W so Chukotka sits on the right
const x = d3.scaleLinear().domain([-170, 190]).range([2, 776]);
const miller = (lat) => 1.25 * Math.log(Math.tan(Math.PI / 4 + 0.4 * lat * Math.PI / 180));
const y = d3.scaleLinear().domain([0, 1]).range([346, 346 - 123]);

const path = d3.geoPath(d3.geoTransform({
  point(lon, lat) { this.stream.point(x(lon), y(miller(lat))); }
}));

function toFeature([name, ring]) {
  const pts = ring.split(" ").map((p) => p.split(",").map(Number));
  pts.push(pts[0]);
  return { type: "Feature", properties: { name }, geometry: { type: "Polygon", coordinates: [pts] } };
}

function drawLand(shapes, colour, strokeW) {
  svg.append("g").selectAll("path")
    .data(shapes.map(toFeature))
    .join("path")
    .attr("class", "land")
    .attr("fill", colour)
    .attr("stroke-width", strokeW)
    .attr("d", path)
    .append("title").text((d) => d.properties.name);
}

drawLand(otherShapes, GREY, 0.7);
drawLand(plannedShapes, NAVY, 0.6);
drawLand(liveShapes, RED, 0.6);
drawLand(enclaveShapes, NAVY, 1.2);

svg.selectAll(".title")
  .data(titleLines)
  .join("text")
  .attr("class", "title")
  .attr("x", 9)
  .attr("y", (d, i) => 28 + i * 23)
  .text((d) => d);

const legend = svg.selectAll(".legend")
  .data(legendLabels)
  .join("g")
  .attr("class", "legend")
  .attr("transform", (d, i) => `translate(546,${65 + i * 18})`);
legend.append("rect")
  .attr("y", -6).attr("width", 22).attr("height", 12).attr("rx", 6)
  .attr("fill", (d, i) => i ? NAVY : RED);
legend.append("text")
  .attr("x", 26).attr("y", 4.5)
  .attr("fill", (d, i) => i ? NAVY : RED)
  .text((d) => d);

svg.append("text").attr("class", "foot").attr("x", 9).attr("y", 491).text("Source: GSMA Intelligence\u00b3");
const note = svg.append("text").attr("class", "foot").attr("x", 9).attr("y", 504);
note.append("tspan").text("Note: Data correct to ");
note.append("tspan").attr("fill", NAVY).text("January");
note.append("tspan").text(" 2022");
</script>
</body>
</html>
